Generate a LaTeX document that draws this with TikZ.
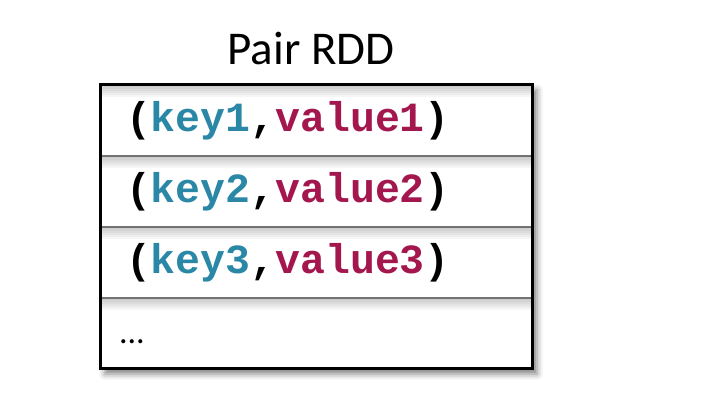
\documentclass[tikz,border=0pt]{standalone}
\usepackage{fontspec}
\setmainfont{Carlito}
\newfontfamily\codefont{Liberation Mono}
\usetikzlibrary{positioning,shadows.blur}
\definecolor{keyteal}{HTML}{2A88A6}
\definecolor{valred}{HTML}{A3164E}
\newcommand{\pairtext}[2]{{\codefont\bfseries(\textcolor{keyteal}{#1},\textcolor{valred}{#2})}}
\begin{document}
\begin{tikzpicture}[x=1pt, y=1pt, node distance=0pt,
  every node/.style={inner sep=0pt, outer sep=0pt},
  row/.style={rectangle, minimum width=432pt, minimum height=71pt,
    text width=380pt, align=left,
    font={\fontsize{41.5}{46}\selectfont},
    path picture={\foreach \h in {2,4,...,12}
      \fill[black, opacity=.035] (path picture bounding box.north west) rectangle ([yshift=-\h pt]path picture bounding box.north east);}},
  sep/.style={draw=black!55, line width=1.4pt},
  backing/.style={fill=white,
    blur shadow={shadow xshift=5pt, shadow yshift=-5pt, shadow blur radius=6pt, shadow opacity=50}},
  frame/.style={draw=black, line width=3pt}]
\useasboundingbox (0,0) rectangle (727,409);
\node (title) at (311,360) {\fontsize{47}{52}\selectfont Pair RDD};
% rows of the RDD
\path[backing] (100,324) rectangle (532,40);
\node[row, anchor=north west] (r1) at (100,324) {\pairtext{key1}{value1}};
\node[row, below=of r1] (r2) {\pairtext{key2}{value2}};
\node[row, below=of r2] (r3) {\pairtext{key3}{value3}};
\node[row, below=of r3, font={\fontsize{34}{40}\selectfont}] (r4) {\hspace{-7pt}\raisebox{-10pt}[0pt][0pt]{...}};
\draw[sep] (r1.south west) -- (r1.south east);
\draw[sep] (r2.south west) -- (r2.south east);
\draw[sep] (r3.south west) -- (r3.south east);
\draw[frame] (r1.north west) rectangle (r4.south east);
\end{tikzpicture}
\end{document}
